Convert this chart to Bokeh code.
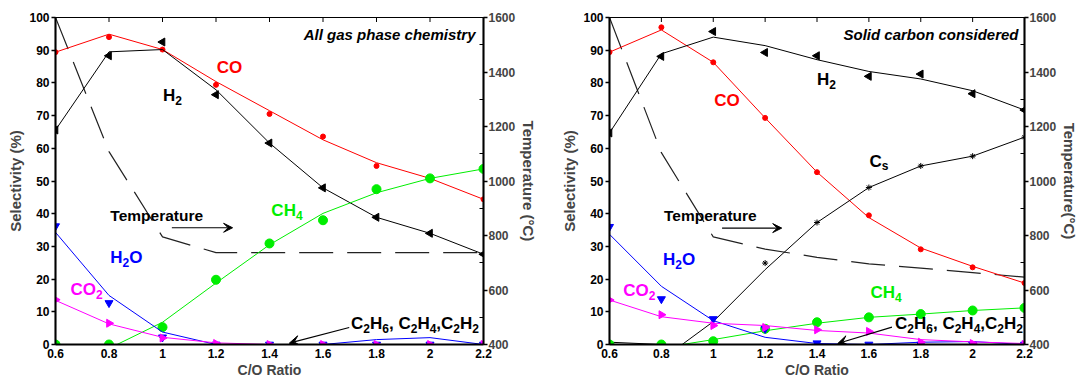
import math
from bokeh.plotting import figure
from bokeh.models import Range1d, LinearAxis, FixedTicker, Label, Arrow, VeeHead
from bokeh.layouts import row
from bokeh.embed import file_html
from bokeh.resources import INLINE

FONT = "Liberation Sans"

# ---------------- data ----------------
co_ratio = [0.6, 0.8, 1.0, 1.2, 1.4, 1.6, 1.8, 2.0, 2.2]
x_ticks = [0.6, 0.8, 1.0, 1.2, 1.4, 1.6, 1.8, 2.0, 2.2]
x_tick_labels = ["0.6", "0.8", "1", "1.2", "1.4", "1.6", "1.8", "2", "2.2"]
sel_ticks = [0, 10, 20, 30, 40, 50, 60, 70, 80, 90, 100]
temp_ticks = [400, 600, 800, 1000, 1200, 1400, 1600]
temp_minor = [500, 700, 900, 1100, 1300, 1500]

# Left panel: all gas phase chemistry
gas_co_pts = [89.4, 94.0, 90.2, 79.4, 70.5, 63.6, 54.6, 50.9, 44.4]
gas_co_line = [89.4, 94.9, 90.2, 80.4, 71.5, 62.6, 55.6, 50.8, 44.4]
gas_h2_pts = [65.6, 88.3, 92.5, 76.4, 61.6, 47.9, 38.9, 34.0, 27.6]
gas_h2_line = [65.6, 89.5, 90.2, 77.9, 61.6, 47.9, 38.9, 34.0, 27.6]
gas_ch4_pts = [0, 0, 5.3, 19.8, 30.9, 38.0, 47.5, 50.8, 53.7]
gas_ch4_line_x = [0.6, 0.8, 0.83, 1.0, 1.2, 1.4, 1.6, 1.8, 2.0, 2.2]
gas_ch4_line = [0, 0, 0, 6.8, 18.8, 30.5, 40.1, 46.4, 50.8, 53.7]
gas_h2o_pts = [36.2, 12.7, 2.2, 0, 0, 0, 0, 0, 0]
gas_h2o_line = [34.3, 15.0, 3.8, 0, 0, 0, 1.5, 2.1, 0]
gas_co2_pts = [13.7, 6.5, 2.0, 0.3, 0, 0, 0, 0, 0]
gas_co2_line = [13.5, 6.3, 2.2, 0.5, 0, 0, 0, 0, 0]
gas_temp = [1600, 1108, 795, 737, 737, 737, 737, 737, 737]

# Right panel: solid carbon considered
sol_co_pts = [89.4, 97.0, 86.3, 69.3, 52.7, 39.5, 29.1, 23.6, 18.8]
sol_co_line = [89.4, 96.2, 86.3, 69.3, 52.7, 38.8, 29.5, 23.9, 18.8]
sol_h2_pts = [64.7, 88.1, 95.7, 89.3, 88.3, 82.0, 82.7, 76.7, 71.7]
sol_h2_line = [64.7, 88.9, 94.0, 91.4, 87.1, 83.5, 81.2, 77.6, 71.7]
sol_cs_pts = [0, 0, 0.9, 24.9, 37.3, 48.0, 54.6, 57.6, 63.4]
sol_cs_line_x = [0.6, 0.8, 0.88, 1.0, 1.2, 1.4, 1.6, 1.8, 2.0, 2.2]
sol_cs_line = [0.7, 0, 0, 7.0, 22.9, 37.3, 48.0, 54.6, 57.6, 63.4]
sol_ch4_pts = [0, 0, 1.0, 4.8, 6.8, 8.3, 9.3, 10.4, 11.2]
sol_ch4_line_x = [0.6, 0.8, 0.88, 1.0, 1.2, 1.4, 1.6, 1.8, 2.0, 2.2]
sol_ch4_line = [0, 0, 0, 1.5, 4.2, 6.5, 8.3, 9.3, 10.4, 11.2]
sol_h2o_pts = [36.0, 13.9, 7.8, 4.8, 0.4, 0, 0, 0, 0]
sol_h2o_line = [33.7, 17.8, 7.3, 2.2, 0.3, 0, 0.7, 0.9, 0]
sol_co2_pts = [13.6, 9.1, 5.8, 5.2, 4.5, 4.0, 0.7, 0.3, 0]
sol_co2_line = [13.6, 8.5, 6.5, 5.8, 4.3, 3.5, 1.5, 0.8, 0.3]
sol_temp = [1600, 1104, 795, 750, 720, 696, 680, 664, 647]

RED = "#ff0000"
GREEN = "#00ee00"
BLUE = "#0000ff"
MAG = "#ff00ff"
BLACK = "#000000"

# Arial-bold advance widths (em) for composing subscripted labels
WIDTH = {"C": 0.722, "O": 0.778, "H": 0.722, "2": 0.556, "4": 0.556, "6": 0.556,
         "s": 0.556, ",": 0.278, " ": 0.278}
BASE_PX = 17
SUB_PX = 12


def label(p, x, y, text, color=BLACK, size="16px", style="bold", align="left",
          xoff=0, yoff=0):
    p.add_layout(Label(x=x, y=y, x_offset=xoff, y_offset=yoff, text=text,
                       text_color=color, text_font=FONT,
                       text_font_size=size, text_font_style=style,
                       text_align=align, text_baseline="middle"))


def chem_label(p, x, y, parts, color=BLACK):
    """parts: list of (text, is_subscript)"""
    off = 0.0
    for txt, sub in parts:
        px = SUB_PX if sub else BASE_PX
        label(p, x, y, txt, color=color, size=f"{px}px", xoff=off,
              yoff=(-5 if sub else 0))
        off += sum(WIDTH.get(c, 0.556) for c in txt) * px


def make_panel(width, ml, mr, mt, mb, temp_title, series, temp, texts, chems, arrows):
    p = figure(width=width, height=380, x_range=Range1d(0.6, 2.2), y_range=Range1d(0, 100),
               output_backend="svg", toolbar_location=None, min_border_left=ml,
               min_border_right=mr, min_border_top=mt, min_border_bottom=mb,
               x_axis_label="C/O Ratio", y_axis_label="Selectivity (%)")
    p.xgrid.visible = False
    p.ygrid.visible = False
    p.outline_line_color = BLACK
    p.outline_line_width = 1.2
    p.background_fill_color = "white"
    p.border_fill_color = "white"

    xa = p.xaxis[0]
    xa.ticker = FixedTicker(ticks=x_ticks)
    xa.major_label_overrides = {t: l for t, l in zip(x_ticks, x_tick_labels)}
    ya = p.yaxis[0]
    ya.ticker = FixedTicker(ticks=sel_ticks)
    for ax in (xa, ya):
        ax.axis_line_width = 2
        ax.major_tick_line_width = 1.5
        ax.major_tick_in = 0
        ax.major_tick_out = 4
        ax.minor_tick_out = 0
        ax.minor_tick_in = 0
        ax.major_label_text_font = FONT
        ax.major_label_text_font_style = "bold"
        ax.major_label_text_font_size = "12px"
        ax.major_label_text_color = BLACK
        ax.axis_label_text_font = FONT
        ax.axis_label_text_font_style = "bold"
        ax.axis_label_text_font_size = "15px"
        ax.axis_label_standoff = 2
        ax.major_label_standoff = 2
    xa.major_tick_out = 0
    xa.major_label_standoff = 4
    xa.axis_label_standoff = 1
    xa.axis_label_text_font_size = "14px"

    # top inward ticks at the x tick positions
    p.scatter(x_ticks, [100] * len(x_ticks), marker="dash", angle=math.pi / 2, size=9,
              line_color=BLACK, line_width=1)

    p.extra_y_ranges = {"T": Range1d(400, 1600)}
    ra = LinearAxis(y_range_name="T", axis_label=temp_title,
                    ticker=FixedTicker(ticks=temp_ticks, minor_ticks=temp_minor),
                    axis_line_width=2, major_tick_out=4, major_tick_in=0,
                    major_tick_line_width=1.5,
                    minor_tick_in=4, minor_tick_out=0,
                    major_label_text_font=FONT, major_label_text_font_style="bold",
                    major_label_text_font_size="12px", major_label_standoff=1,
                    axis_label_text_font=FONT, axis_label_text_font_style="bold",
                    axis_label_text_font_size="15px", axis_label_standoff=2)
    p.add_layout(ra, "right")

    # temperature dashed line
    p.line(co_ratio, temp, y_range_name="T", line_color="#222222", line_width=1.2,
           line_dash="34 14")

    for s in series:
        p.line(s["lx"], s["line"], line_color=s["color"], line_width=1)
        kw = dict(marker=s["marker"], size=s["size"], fill_color=s["color"],
                  line_color=s["color"])
        if "angle" in s:
            kw["angle"] = s["angle"]
        p.scatter(co_ratio, s["pts"], **kw)

    for t in texts:
        label(p, *t[:3], **t[3])
    for (x, y, parts, color) in chems:
        chem_label(p, x, y, parts, color)

    for (x0, y0, x1, y1, hs) in arrows:
        p.add_layout(Arrow(x_start=x0, y_start=y0, x_end=x1, y_end=y1, line_width=1.2,
                           line_color=BLACK,
                           end=VeeHead(size=hs, fill_color=BLACK, line_color=BLACK)))
    return p


H2 = [("H", False), ("2", True)]
CO = [("CO", False)]
CH4 = [("CH", False), ("4", True)]
H2O = [("H", False), ("2", True), ("O", False)]
CO2 = [("CO", False), ("2", True)]
C2X = [("C", False), ("2", True), ("H", False), ("6", True), (", C", False), ("2", True),
       ("H", False), ("4", True), (",C", False), ("2", True), ("H", False), ("2", True)]
CS = [("C", False), ("s", True)]

gas_series = [
    dict(lx=co_ratio, line=gas_co_line, pts=gas_co_pts, color=RED, marker="circle", size=5),
    dict(lx=co_ratio, line=gas_h2_line, pts=gas_h2_pts, color=BLACK, marker="triangle", size=8, angle=math.pi / 2),
    dict(lx=gas_ch4_line_x, line=gas_ch4_line, pts=gas_ch4_pts, color=GREEN, marker="circle", size=9),
    dict(lx=co_ratio, line=gas_h2o_line, pts=gas_h2o_pts, color=BLUE, marker="inverted_triangle", size=8),
    dict(lx=co_ratio, line=gas_co2_line, pts=gas_co2_pts, color=MAG, marker="triangle", size=8, angle=-math.pi / 2),
]
gas_texts = [
    (2.17, 94.8, "All gas phase chemistry", dict(size="15px", style="bold italic", align="right")),
    (0.805, 39.6, "Temperature", dict(size="15.5px")),
]
gas_chems = [
    (1.203, 84.7, CO, RED),
    (1.002, 76.0, H2, BLACK),
    (1.407, 41.0, CH4, GREEN),
    (0.805, 26.5, H2O, BLUE),
    (0.656, 16.8, CO2, MAG),
    (1.705, 6.5, C2X, BLACK),
]
gas_arrows = [(1.035, 35.7, 1.262, 35.7, 9), (1.698, 5.2, 1.474, 0.4, 10)]

sol_series = [
    dict(lx=co_ratio, line=sol_co_line, pts=sol_co_pts, color=RED, marker="circle", size=5),
    dict(lx=co_ratio, line=sol_h2_line, pts=sol_h2_pts, color=BLACK, marker="triangle", size=8, angle=math.pi / 2),
    dict(lx=sol_cs_line_x, line=sol_cs_line, pts=sol_cs_pts, color=BLACK, marker="asterisk", size=6),
    dict(lx=sol_ch4_line_x, line=sol_ch4_line, pts=sol_ch4_pts, color=GREEN, marker="circle", size=9),
    dict(lx=co_ratio, line=sol_h2o_line, pts=sol_h2o_pts, color=BLUE, marker="inverted_triangle", size=8),
    dict(lx=co_ratio, line=sol_co2_line, pts=sol_co2_pts, color=MAG, marker="triangle", size=8, angle=-math.pi / 2),
]
sol_texts = [
    (2.177, 94.7, "Solid carbon considered", dict(size="15px", style="bold italic", align="right")),
    (0.81, 39.6, "Temperature", dict(size="15.5px")),
]
sol_chems = [
    (1.004, 74.7, CO, RED),
    (1.40, 81.0, H2, BLACK),
    (1.602, 56.1, CS, BLACK),
    (0.806, 26.0, H2O, BLUE),
    (0.653, 16.4, CO2, MAG),
    (1.606, 16.0, CH4, GREEN),
    (1.701, 6.5, C2X, BLACK),
]
sol_arrows = [(1.034, 35.6, 1.264, 35.6, 9), (1.689, 5.3, 1.48, 0.3, 10)]

p1 = make_panel(540, 55, 55, 17, 36, "Temperature (°C)", gas_series, gas_temp,
                gas_texts, gas_chems, gas_arrows)
p2 = make_panel(541, 69, 52, 16, 36, "Temperature(°C)", sol_series, sol_temp,
                sol_texts, sol_chems, sol_arrows)

layout = row(p1, p2, spacing=0)
open("out.html", "w").write(file_html(layout, INLINE))
